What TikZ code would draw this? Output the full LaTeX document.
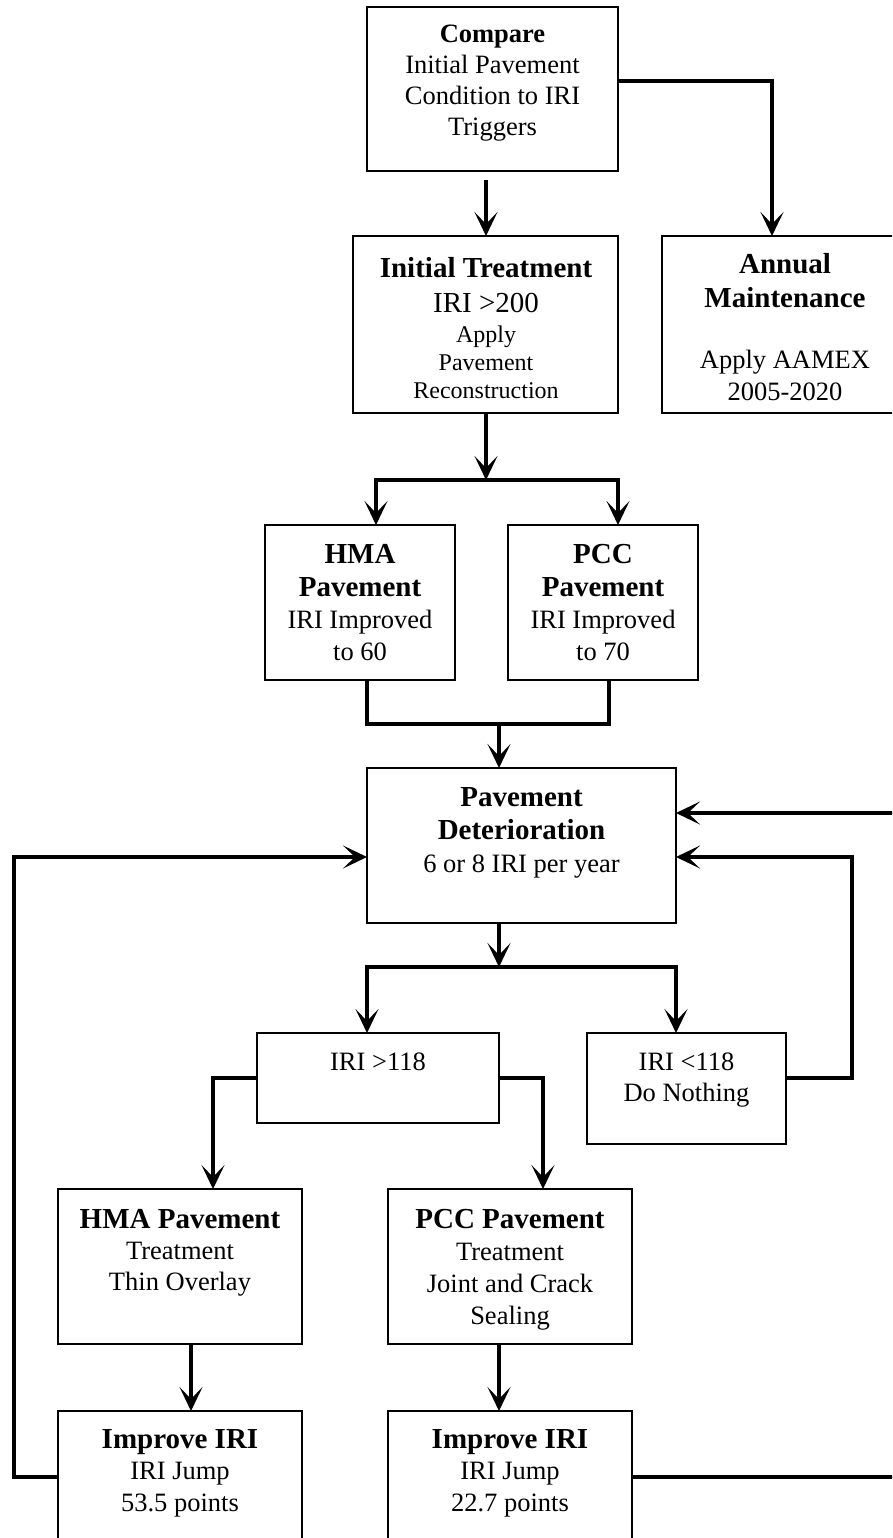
\documentclass[tikz,border=0pt]{standalone}
\usepackage{fontspec}
\setmainfont{Liberation Serif}
\usetikzlibrary{arrows.meta}
% font switches for the box texts (size, baseline skip); the word space is
% fixed to the font's own quarter em, as the node alignment would freeze it
\newcommand\setsize[2]{\fontsize{#1}{#2}\selectfont\spaceskip=0.25em\relax\xspaceskip=\spaceskip}
\newcommand\headfont{\bfseries\setsize{29}{33}}
\newcommand\bodyfont{\setsize{26.5}{32}}
\newcommand\smallbody{\setsize{24}{28}}
\begin{document}
\begin{tikzpicture}[x=1pt,y=-1pt,
  box/.style={draw, line width=1.3pt, inner sep=0pt, outer sep=0pt, fill=white},
  txt/.style={inner sep=0pt, outer sep=0pt, anchor=base, text width=260pt, align=center},
  conn/.style={line width=3.6pt, line join=miter},
  arrow/.style={conn, -{Stealth[length=24pt, width=23pt, inset=12pt]}}]
\useasboundingbox (0,0) rectangle (892,1538);
\clip (0,0) rectangle (892,1538);

% boxes
\node[box, minimum width=251pt, minimum height=164pt] (compare) at (492.5,89) {};
\node[box, minimum width=265pt, minimum height=177pt] (init) at (485.5,324.5) {};
\node[box, minimum width=246pt, minimum height=177pt] (annual) at (785,324.5) {};
\node[box, minimum width=190pt, minimum height=155pt] (hma1) at (360,602.5) {};
\node[box, minimum width=190pt, minimum height=155pt] (pcc1) at (603,602.5) {};
\node[box, minimum width=309pt, minimum height=155pt] (pd) at (521.5,845.5) {};
\node[box, minimum width=242pt, minimum height=90pt] (gt) at (378,1078) {};
\node[box, minimum width=199pt, minimum height=111pt] (lt) at (686.5,1088.5) {};
\node[box, minimum width=244pt, minimum height=155pt] (hma2) at (180,1266.5) {};
\node[box, minimum width=244pt, minimum height=155pt] (pcc2) at (510,1266.5) {};
\node[box, minimum width=244pt, minimum height=155pt] (imp1) at (180,1488.5) {};
\node[box, minimum width=244pt, minimum height=155pt] (imp2) at (510,1488.5) {};

% box texts
\node[txt] (tcompare) at (492.5,43) {{\bfseries\setsize{26.5}{31}Compare\par}%
  {\setsize{26.5}{31}Initial Pavement\\Condition to IRI\\Triggers\par}};
\node[txt] (tinit) at (486,277) {{\headfont Initial Treatment\par}%
  {\setsize{29}{35}IRI >200\par}\vspace{2.5pt}%
  {\smallbody Apply\\Pavement\\Reconstruction\par}};
\node[txt] (tannual) at (785,273) {{\bfseries\setsize{29}{34}Annual\\Maintenance\par}\vspace{29pt}%
  {\bodyfont Apply AAMEX\\2005-2020\par}};
\node[txt] (thma1) at (360,563) {{\headfont HMA\\Pavement\par}{\bodyfont IRI Improved\\to 60\par}};
\node[txt] (tpcc1) at (603,563) {{\headfont PCC\\Pavement\par}{\bodyfont IRI Improved\\to 70\par}};
\node[txt] (tpd) at (521.5,806) {{\headfont Pavement\\Deterioration\par}{\setsize{26.5}{33}6 or 8 IRI per year\par}};
\node[txt] (tgt) at (378,1070) {{\bodyfont IRI >118\par}};
\node[txt] (tlt) at (686.5,1070) {{\setsize{26.5}{31}IRI <118\\Do Nothing\par}};
\node[txt] (thma2) at (180,1228) {{\headfont HMA Pavement\par}{\setsize{26.5}{31}Treatment\\Thin Overlay\par}};
\node[txt] (tpcc2) at (510,1228) {{\headfont PCC Pavement\par}{\setsize{26.5}{32}Treatment\\Joint and Crack\\Sealing\par}};
\node[txt] (timp1) at (180,1448) {{\headfont Improve IRI\par}{\setsize{26.5}{31.5}IRI Jump\\53.5 points\par}};
\node[txt] (timp2) at (510,1448) {{\headfont Improve IRI\par}{\setsize{26.5}{31.5}IRI Jump\\22.7 points\par}};

% junction points and loop corners
\coordinate (c0) at (486,180);
\coordinate (b1) at (486,480);
\coordinate (b2) at (499,724);
\coordinate (b3) at (499,967);
\coordinate (lbot) at (14,1477);
\coordinate (ltop) at (14,857);
\coordinate (rbot) at (905,1477);
\coordinate (rtop) at (905,813);

% connectors
\draw[arrow] (c0) -- (c0 |- init.north);
\draw[arrow] ([yshift=8pt]compare.east) -| ([xshift=-13pt]annual.north);
\draw[arrow] (b1 |- init.south) -- (b1);
\draw[arrow] (b1) -| ([xshift=16pt]hma1.north);
\draw[arrow] (b1) -| ([xshift=15pt]pcc1.north);
\draw[conn] ([xshift=7pt]hma1.south) |- (b2) -| ([xshift=6pt]pcc1.south);
\draw[arrow] (b2) -- (b2 |- pd.north);
\draw[arrow] (b3 |- pd.south) -- (b3);
\draw[arrow] (b3) -| ([xshift=-11pt]gt.north);
\draw[arrow] (b3) -| ([xshift=-10.5pt]lt.north);
\draw[arrow] ([yshift=10.5pt]lt.east) -- ++(66,0) |- ([yshift=-11.5pt]pd.east);
\draw[arrow] (gt.west) -| ([xshift=33pt]hma2.north);
\draw[arrow] (gt.east) -| ([xshift=33pt]pcc2.north);
\draw[arrow] ([xshift=11pt]hma2.south) -- ([xshift=11pt]imp1.north);
\draw[arrow] ([xshift=-11pt]pcc2.south) -- ([xshift=-11pt]imp2.north);
\draw[arrow] (imp1.west |- lbot) -- (lbot) -- (ltop) -- (ltop -| pd.west);
\draw[arrow] (imp2.east |- rbot) -- (rbot) -- (rtop) -- (rtop -| pd.east);
\end{tikzpicture}
\end{document}
